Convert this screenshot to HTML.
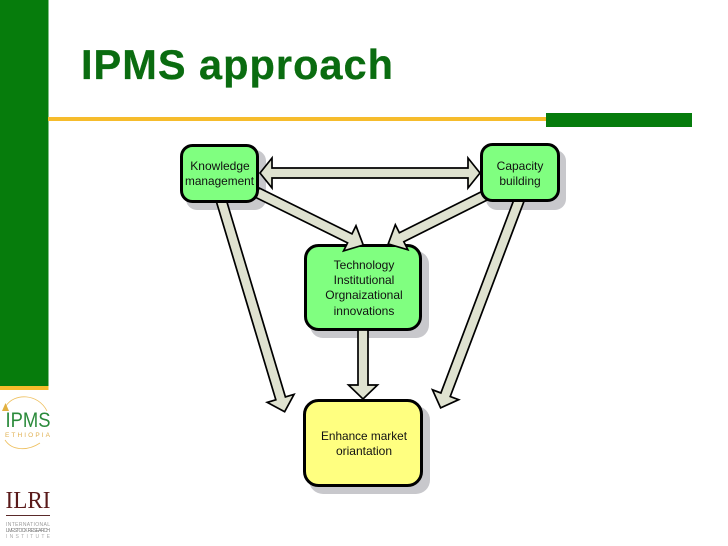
<!DOCTYPE html>
<html><head><meta charset="utf-8"><style>
html,body{margin:0;padding:0;background:#fff}
svg{display:block}
text{font-family:"Liberation Sans",sans-serif}
</style></head><body>
<svg width="728" height="546" viewBox="0 0 728 546" xmlns="http://www.w3.org/2000/svg">
<rect width="728" height="546" fill="#fff"/>
<rect x="0" y="0" width="48.5" height="386" fill="#067c0c"/>
<rect x="0" y="386" width="48.5" height="4" fill="#f6bc2c"/>
<rect x="48" y="117" width="498" height="4" fill="#f6bc2c"/>
<rect x="546" y="113" width="146" height="14" fill="#067c0c"/>
<text x="81" y="79" font-size="41.5" font-weight="bold" fill="#0a6c10" stroke="#0a6c10" stroke-width="0.3" textLength="312" lengthAdjust="spacing">IPMS approach</text>

<g fill="#c8c8cc">
<rect x="186" y="150" width="80" height="60" rx="11"/>
<rect x="486" y="150" width="80" height="60" rx="11"/>
<rect x="310" y="251" width="119" height="87" rx="13"/>
<rect x="309" y="406" width="121" height="88" rx="14"/>
</g>

<g stroke="#000" stroke-width="3">
<rect x="305.5" y="245.5" width="115" height="84" rx="13" fill="#80ff80"/>
<rect x="304.5" y="400.5" width="117" height="85" rx="14" fill="#ffff80"/>
</g>

<g fill="#dfe2d0" stroke="#000" stroke-width="1.7" stroke-linejoin="miter">
<polygon points="260,173 272,158 272,168 468,168 468,158 480,173 468,188 468,178 272,178 272,188"/>
<polygon transform="translate(257,192.5) rotate(26.3)" points="0,-5 103.500,-5 103.500,-14 118.500,0 103.500,14 103.500,5 0,5"/>
<polygon transform="translate(487,194.500) rotate(153.4)" points="0,-5 95.500,-5 95.500,-14 110.500,0 95.500,14 95.500,5 0,5"/>
<polygon transform="translate(220.500,198) rotate(73.3)" points="0,-5 209.200,-5 209.200,-14 223.200,0 209.200,14 209.200,5 0,5"/>
<polygon transform="translate(519.800,198.300) rotate(110.7)" points="0,-5 210,-5 210,-14 224,0 210,14 210,5 0,5"/>
<polygon points="358,330 368,330 368,385 377.500,385 363,399 348.500,385 358,385"/>
</g>

<g stroke="#000" stroke-width="3">
<rect x="181.5" y="145.5" width="76" height="56" rx="11" fill="#80ff80"/>
<rect x="481.5" y="144.5" width="77" height="56" rx="11" fill="#80ff80"/>
</g>

<g font-size="12" fill="#111" text-anchor="middle">
<text x="220" y="170">Knowledge</text>
<text x="219.500" y="185" textLength="69" lengthAdjust="spacingAndGlyphs">management</text>
<text x="520" y="170">Capacity</text>
<text x="520" y="185">building</text>
<text x="364" y="269">Technology</text>
<text x="364" y="284">Institutional</text>
<text x="364" y="299">Orgnaizational</text>
<text x="364" y="315">innovations</text>
<text x="364" y="440" textLength="86" lengthAdjust="spacingAndGlyphs">Enhance market</text>
<text x="364" y="455">oriantation</text>
</g>

<path d="M6 406 C14 393 38 393 47 411 M5 440 C12 451 28 451 40 443" fill="none" stroke="#eec060" stroke-width="0.8"/>
<polygon points="2,411 5.500,403 9,411" fill="#e2b040"/>
<text x="28" y="427" font-size="21" fill="#2a8a3a" text-anchor="middle" textLength="45" lengthAdjust="spacingAndGlyphs">IPMS</text>
<text x="27.500" y="437" font-size="6.500" fill="#e0b050" text-anchor="middle" textLength="45">ETHIOPIA</text>
<text x="28" y="508" font-size="24" fill="#5a1a1a" text-anchor="middle" style="font-family:'Liberation Serif',serif" textLength="45" lengthAdjust="spacingAndGlyphs">ILRI</text>
<rect x="6" y="515" width="44" height="1" fill="#5a2a2a"/>
<text x="28" y="526" font-size="5" fill="#999" text-anchor="middle" textLength="44">INTERNATIONAL</text>
<text x="28" y="532" font-size="5" fill="#777" text-anchor="middle" textLength="44">LIVESTOCK RESEARCH</text>
<text x="28" y="538" font-size="5" fill="#aaa" text-anchor="middle" textLength="44">INSTITUTE</text>
</svg>
</body></html>
